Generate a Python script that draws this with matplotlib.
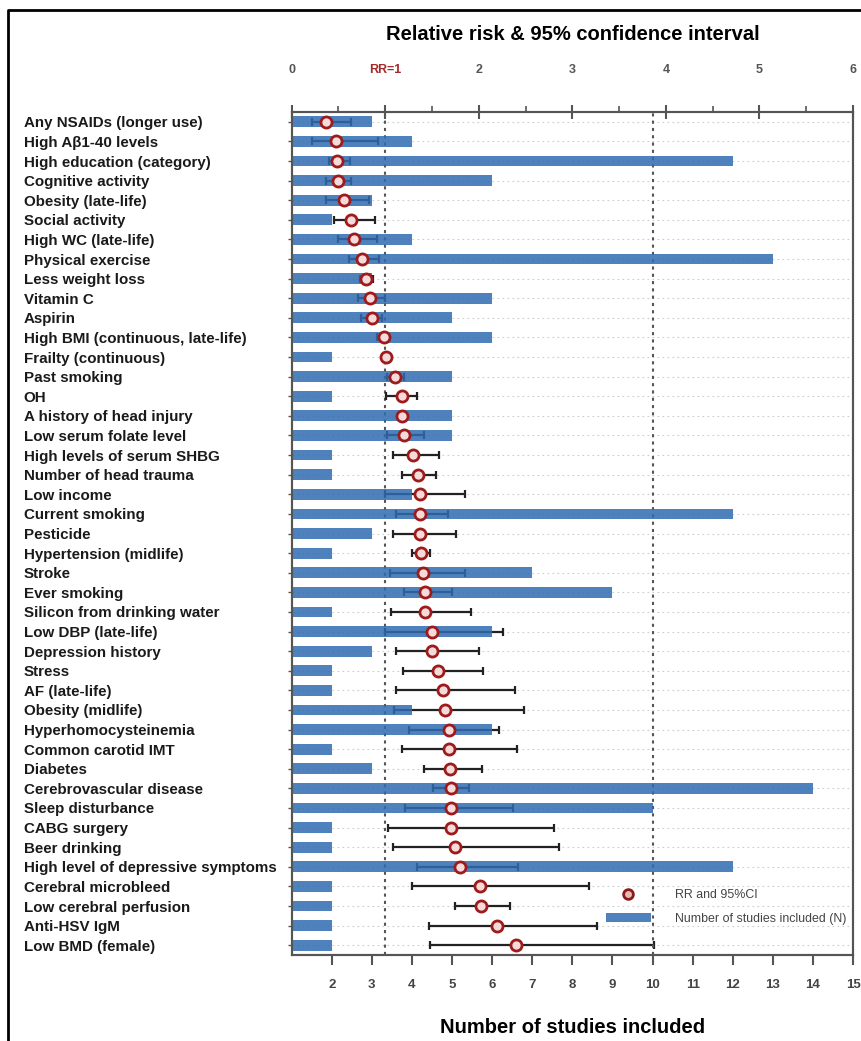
import numpy as np
import matplotlib
matplotlib.use("Agg")
import matplotlib.pyplot as plt
from matplotlib.lines import Line2D
from matplotlib.patches import Patch

plt.rcParams["font.family"] = ["Liberation Sans", "DejaVu Sans"]

factors = [
    "Any NSAIDs (longer use)", "High Aβ1-40 levels", "High education (category)",
    "Cognitive activity", "Obesity (late-life)", "Social activity", "High WC (late-life)",
    "Physical exercise", "Less weight loss", "Vitamin C", "Aspirin",
    "High BMI (continuous, late-life)", "Frailty (continuous)", "Past smoking", "OH",
    "A history of head injury", "Low serum folate level", "High levels of serum SHBG",
    "Number of head trauma", "Low income", "Current smoking", "Pesticide",
    "Hypertension (midlife)", "Stroke", "Ever smoking", "Silicon from drinking water",
    "Low DBP (late-life)", "Depression history", "Stress", "AF (late-life)",
    "Obesity (midlife)", "Hyperhomocysteinemia", "Common carotid IMT", "Diabetes",
    "Cerebrovascular disease", "Sleep disturbance", "CABG surgery", "Beer drinking",
    "High level of depressive symptoms", "Cerebral microbleed", "Low cerebral perfusion",
    "Anti-HSV IgM", "Low BMD (female)",
]
n_studies = [3, 4, 12, 6, 3, 2, 4, 13, 3, 6, 5, 6, 2, 5, 2, 5, 5, 2, 2, 4, 12, 3, 2, 7, 9,
             2, 6, 3, 2, 2, 4, 6, 2, 3, 14, 10, 2, 2, 12, 2, 2, 2, 2]
rr = [0.37, 0.47, 0.49, 0.50, 0.56, 0.63, 0.67, 0.75, 0.79, 0.84, 0.86, 0.99, 1.01, 1.10,
      1.18, 1.18, 1.20, 1.30, 1.35, 1.37, 1.37, 1.37, 1.38, 1.40, 1.43, 1.43, 1.50, 1.50,
      1.56, 1.62, 1.64, 1.68, 1.68, 1.69, 1.70, 1.70, 1.70, 1.75, 1.80, 2.01, 2.02, 2.19, 2.40]
ci_low = [0.22, 0.22, 0.40, 0.37, 0.37, 0.45, 0.50, 0.61, 0.73, 0.71, 0.74, 0.91, 1.00, 1.02,
          1.01, 1.14, 1.02, 1.08, 1.18, 1.00, 1.12, 1.08, 1.29, 1.05, 1.20, 1.06, 1.00, 1.12,
          1.19, 1.12, 1.09, 1.25, 1.18, 1.42, 1.51, 1.21, 1.03, 1.08, 1.34, 1.29, 1.75, 1.47, 1.48]
ci_high = [0.63, 0.92, 0.62, 0.63, 0.83, 0.89, 0.91, 0.93, 0.87, 1.00, 0.97, 1.03, 1.02, 1.20,
           1.34, 1.22, 1.41, 1.57, 1.54, 1.85, 1.67, 1.76, 1.48, 1.85, 1.71, 1.92, 2.26, 2.00,
           2.05, 2.39, 2.48, 2.22, 2.41, 2.03, 1.90, 2.37, 2.80, 2.86, 2.42, 3.18, 2.33, 3.26, 3.87]
rr_ticklabels = ["0", "RR=1", "2", "3", "4", "5", "6"]

bar_color = "#306bb1"
axis_gray = "#555555"
rows = np.arange(len(factors))
rr_a = np.array(rr)
xerr = [rr_a - np.array(ci_low), np.array(ci_high) - rr_a]

fig = plt.figure(figsize=(8.62, 10.41), dpi=100)
ax = fig.add_axes([0.3383, 0.0826, 0.6513, 0.8098])
ax_rr = ax.twiny()
# RR layer (grid, RR=1 line, CIs) sits under the study-count bars
ax_rr.set_zorder(ax.get_zorder() - 1)
ax.patch.set_visible(False)
ax_rr.patch.set_visible(True)
ax_rr.patch.set_facecolor("white")
ax_rr.yaxis.set_visible(True)
ax_rr.tick_params(axis="y", left=False, right=False, labelleft=False, labelright=False)

ax_rr.grid(axis="y", linestyle=(0, (1.5, 3)), color="#cccccc", linewidth=0.8)
ax_rr.axvline(1, color=axis_gray, linestyle=(0, (1.5, 2)), linewidth=1.5)
ax_rr.errorbar(rr, rows, xerr=xerr, fmt="none", ecolor="#222222",
               elinewidth=1.6, capsize=3, capthick=1.6)

ax.axvline(10, color=axis_gray, linestyle=(0, (1.5, 2)), linewidth=1.5, zorder=1)
ax.barh(rows, n_studies, height=0.55, color=bar_color, alpha=0.85, zorder=2)
ax.plot(rr, rows, "o", transform=ax_rr.transData, ms=8, mew=2,
        mec="#9e1b1b", mfc="#f6dada", zorder=3)

ax.set_xlim(1, 15)
ax_rr.set_xlim(0, 6)
ax.set_ylim(len(factors) - 0.5, -0.5)

# bottom axis: number of studies
ax.set_xticks(range(2, 16))
ax.tick_params(axis="x", direction="out", length=7, width=1.5, color=axis_gray,
               pad=10, labelsize=9.5, labelcolor="#444444")
for t in ax.get_xticklabels():
    t.set_fontweight("bold")
ax.set_xlabel("Number of studies included", fontsize=14.5, fontweight="bold", labelpad=20)

# top axis: relative risk
ax_rr.set_xticks(range(7))
ax_rr.set_xticklabels(rr_ticklabels)
ax_rr.set_xticks(np.arange(0.5, 6, 1), minor=True)
ax_rr.tick_params(axis="x", which="major", direction="inout", length=10, width=1.5,
                  color=axis_gray, pad=21, labelsize=9, labelcolor="#555555")
ax_rr.tick_params(axis="x", which="minor", direction="out", length=4, width=1.2, color=axis_gray)
for t in ax_rr.get_xticklabels():
    t.set_fontweight("bold")
ax_rr.get_xticklabels()[1].set_color("#a52a2a")
ax_rr.set_xlabel("Relative risk & 95% confidence interval", fontsize=14.5,
                 fontweight="bold", labelpad=17)

# factor names, left aligned
ax.set_yticks(rows)
ax.set_yticklabels(factors, ha="left", fontsize=10.9, fontweight="bold", color="#1a1a1a")
ax.tick_params(axis="y", direction="out", length=3, width=1, color=axis_gray, pad=190)

for a in (ax, ax_rr):
    for s in a.spines.values():
        s.set_color(axis_gray)
        s.set_linewidth(1.5)

handles = [
    Line2D([], [], marker="o", ls="none", ms=7, mew=2, mec="#8b1a1a", mfc="#e8b8b8"),
    Patch(facecolor=bar_color, alpha=0.85),
]
ax.legend(handles, ["RR and 95%CI", "Number of studies included (N)"],
          loc="center left", bbox_to_anchor=(595 / 862, 1 - 907 / 1041),
          bbox_transform=fig.transFigure, frameon=False, fontsize=8.9,
          labelcolor="#444444", handlelength=3.6, handleheight=0.8,
          handletextpad=2.0, labelspacing=0.9)

# outer frame
fig.add_artist(Line2D([8 / 862, 8 / 862, 1.0], [0.0, 1 - 10 / 1041, 1 - 10 / 1041],
                      transform=fig.transFigure, color="black", linewidth=2))

fig.savefig("out.png", dpi=100)
